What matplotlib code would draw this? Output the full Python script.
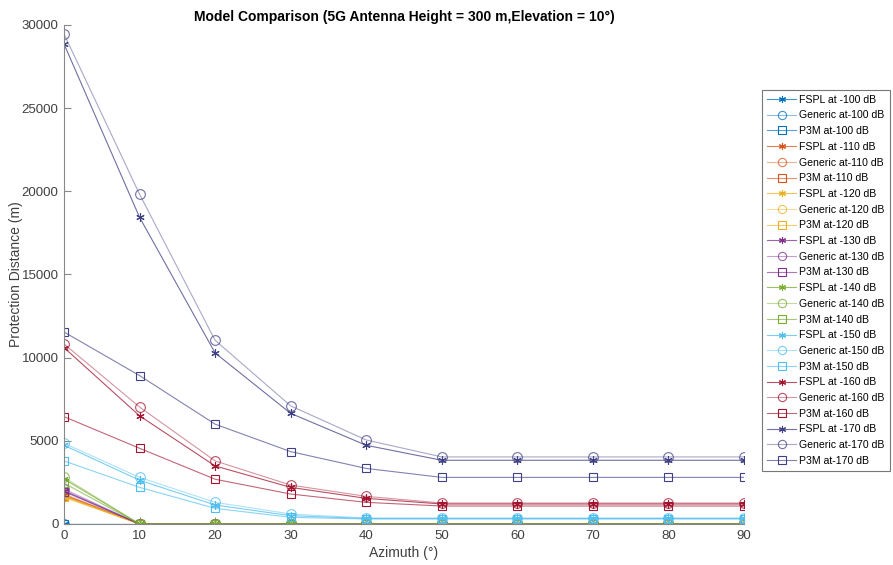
import matplotlib
matplotlib.use("Agg")
import matplotlib.pyplot as plt

plt.rcParams["font.family"] = ["Liberation Sans", "DejaVu Sans"]

azimuth = [0, 10, 20, 30, 40, 50, 60, 70, 80, 90]
levels = [-100, -110, -120, -130, -140, -150, -160, -170]

# protection distance (m), one list per model and level
fspl = {
    -100: [0, 0, 0, 0, 0, 0, 0, 0, 0, 0],
    -110: [1750, 0, 0, 0, 0, 0, 0, 0, 0, 0],
    -120: [1650, 0, 0, 0, 0, 0, 0, 0, 0, 0],
    -130: [2000, 0, 0, 0, 0, 0, 0, 0, 0, 0],
    -140: [2700, 0, 0, 0, 0, 0, 0, 0, 0, 0],
    -150: [4730, 2630, 1140, 500, 330, 330, 330, 330, 330, 330],
    -160: [10600, 6500, 3490, 2200, 1540, 1200, 1200, 1200, 1200, 1200],
    -170: [28850, 18430, 10280, 6650, 4730, 3830, 3830, 3830, 3830, 3830],
}
generic = {
    -100: [0, 0, 0, 0, 0, 0, 0, 0, 0, 0],
    -110: [1800, 0, 0, 0, 0, 0, 0, 0, 0, 0],
    -120: [1700, 0, 0, 0, 0, 0, 0, 0, 0, 0],
    -130: [2100, 0, 0, 0, 0, 0, 0, 0, 0, 0],
    -140: [2800, 0, 0, 0, 0, 0, 0, 0, 0, 0],
    -150: [4850, 2800, 1300, 600, 360, 360, 360, 360, 360, 360],
    -160: [10820, 7030, 3790, 2340, 1660, 1260, 1260, 1260, 1260, 1260],
    -170: [29450, 19820, 11040, 7100, 5050, 4030, 4030, 4030, 4030, 4030],
}
p3m = {
    -100: [0, 0, 0, 0, 0, 0, 0, 0, 0, 0],
    -110: [1700, 0, 0, 0, 0, 0, 0, 0, 0, 0],
    -120: [1600, 0, 0, 0, 0, 0, 0, 0, 0, 0],
    -130: [1950, 0, 0, 0, 0, 0, 0, 0, 0, 0],
    -140: [2450, 0, 0, 0, 0, 0, 0, 0, 0, 0],
    -150: [3790, 2200, 940, 400, 300, 300, 300, 300, 300, 300],
    -160: [6450, 4550, 2690, 1800, 1300, 1080, 1080, 1080, 1080, 1080],
    -170: [11540, 8920, 6000, 4350, 3340, 2800, 2800, 2800, 2800, 2800],
}

colors = {
    -100: (0.0, 0.447, 0.741),
    -110: (0.85, 0.325, 0.098),
    -120: (0.929, 0.694, 0.125),
    -130: (0.494, 0.184, 0.556),
    -140: (0.466, 0.674, 0.188),
    -150: (0.301, 0.745, 0.933),
    -160: (0.635, 0.078, 0.184),
    -170: (0.25, 0.25, 0.52),
}

fig = plt.figure(figsize=(8.93, 5.65), dpi=100)
ax = fig.add_axes([0.0717, 0.0726, 0.7613, 0.8834])

for lv in levels:
    c = colors[lv]
    ax.plot(azimuth, fspl[lv], color=c + (0.75,), marker=(6, 2, 0), ms=6,
            mec=c, mew=0.8, lw=0.8, label=f"FSPL at {lv} dB")
    ax.plot(azimuth, generic[lv], color=c + (0.45,), marker="o", ms=7,
            mec=c + (0.75,), mfc="none", mew=0.8, lw=0.8,
            label=f"Generic at{lv} dB")
    ax.plot(azimuth, p3m[lv], color=c + (0.65,), marker="s", ms=6,
            mec=c, mfc="none", mew=0.8, lw=0.8, label=f"P3M at{lv} dB")

ax.set_xlim(0, 90)
ax.set_ylim(0, 30000)
ax.set_xticks(range(0, 91, 10))
ax.set_yticks(range(0, 30001, 5000))
for s in ["top", "right"]:
    ax.spines[s].set_visible(False)
for s in ["left", "bottom"]:
    ax.spines[s].set_color("#888888")
    ax.spines[s].set_linewidth(0.8)
ax.tick_params(direction="in", color="#888888", labelcolor="#404040",
               labelsize=9.5, length=5, pad=4)

ax.set_title("Model Comparison (5G Antenna Height = 300 m,Elevation = 10\u00b0)",
             fontsize=10, fontweight="bold", pad=3)
ax.set_xlabel("Azimuth (\u00b0)", fontsize=10, color="#404040", labelpad=3)
ax.set_ylabel("Protection Distance (m)", fontsize=10, color="#404040")
ax.yaxis.set_label_coords(-0.06, 0.5)

leg = fig.legend(loc="upper left", bbox_to_anchor=(762 / 893, 1 - 90 / 565),
                 fontsize=7.6, frameon=True, fancybox=False, borderaxespad=0,
                 handlelength=2.8, labelspacing=0.54, borderpad=0.45,
                 handletextpad=0.3, markerscale=0.85)
leg.get_frame().set_edgecolor("#555555")
leg.get_frame().set_linewidth(0.8)

fig.savefig("out.png", dpi=100)
